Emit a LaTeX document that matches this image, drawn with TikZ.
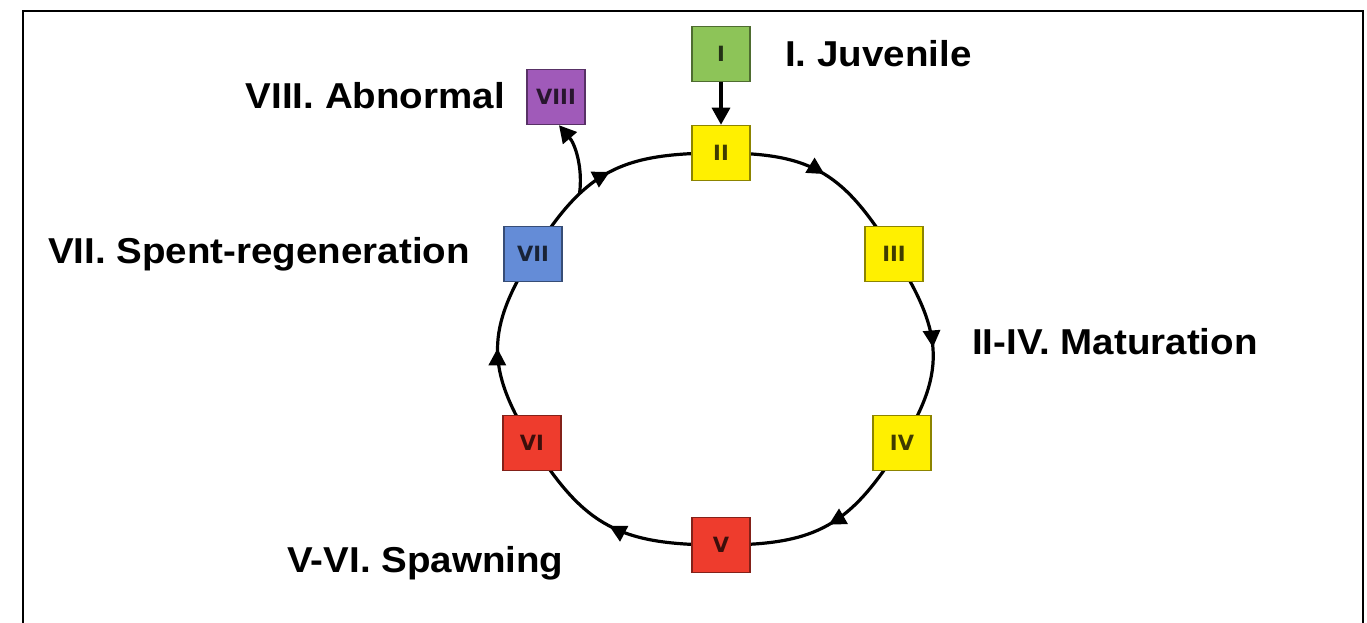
\documentclass[tikz,border=0pt]{standalone}
\usepackage{fontspec}
\setmainfont{Liberation Sans}
\newfontfamily\boxfont{DejaVu Sans}
\usepackage{graphicx}
\usetikzlibrary{arrows.meta,decorations.markings,backgrounds}
\definecolor{cI}{RGB}{141,196,88}
\definecolor{cY}{RGB}{255,240,0}
\definecolor{cR}{RGB}{238,60,45}
\definecolor{cB}{RGB}{100,140,215}
\definecolor{cP}{RGB}{160,90,185}
\begin{document}
\begin{tikzpicture}[x=1pt,y=1pt,
 stagebox/.style={draw=#1!55!black, fill=#1, line width=1.5pt, minimum width=58pt, minimum height=55pt, inner sep=0pt, text=#1!25!black, font=\boxfont\bfseries\fontsize{21}{21}\selectfont},
 lbl/.style={font=\bfseries\fontsize{36}{40}\selectfont, inner sep=0pt},
 flow/.style={line width=3.2pt, draw=black},
 cyc/.style={looseness=1.19},
 midarrow/.style={postaction={decorate}, decoration={markings, mark=at position 0.5 with {\arrow{Triangle[length=17pt,width=17pt]}}}},
 tipend/.style={-{Triangle[length=17pt,width=18pt]}}
]
\useasboundingbox (0,0) rectangle (1367,622);

\node[stagebox=cI] (I) at (721,568) {I};
\node[stagebox=cY] (II) at (721,469) {II};
\node[stagebox=cY] (III) at (894,368) {III};
\node[stagebox=cY] (IV) at (902,179) {IV};
\node[stagebox=cR] (V) at (721,77) {V};
\node[stagebox=cR] (VI) at (532,179) {VI};
\node[stagebox=cB] (VII) at (533,368) {VII};
\node[stagebox=cP] (VIII) at (556,525) {VIII};

\begin{scope}[on background layer]
\fill[white] (0,0) rectangle (1367,622);
\draw[line width=2.5pt] (23,-10) -- (23,611) -- (1363,611) -- (1363,-10);
\draw[flow, cyc, midarrow] (II.center) to[out=0, in=122] (III.center);
\draw[flow, cyc, midarrow] (III.center) to[out=-58, in=58] (IV.center);
\draw[flow, cyc, midarrow] (IV.center) to[out=-122, in=0] (V.center);
\draw[flow, cyc, midarrow] (V.center) to[out=180, in=-58] (VI.center);
\draw[flow, cyc, midarrow] (VI.center) to[out=122, in=-122] (VII.center);
\draw[flow, cyc, midarrow] (VII.center) to[out=58, in=180] coordinate[pos=0.31] (br) (II.center);
\end{scope}

\draw[flow, tipend] (I) -- (II);
\draw[flow, tipend] (br) .. controls (583,455) and (575,478) .. ([xshift=3pt]VIII.south);

\node[lbl, anchor=base west] (lI) at (785,555) {\scalebox{1.07}[1]{I. Juvenile}};
\node[lbl, anchor=base east] (lVIII) at (505,513) {\scalebox{1.07}[1]{VIII. Abnormal}};
\node[lbl, anchor=base east] (lVII) at (470,358) {\scalebox{1.07}[1]{VII. Spent-regeneration}};
\node[lbl, anchor=base west] (lM) at (972,268) {\scalebox{1.07}[1]{II-IV. Maturation}};
\node[lbl, anchor=base west] (lS) at (287,50) {\scalebox{1.07}[1]{V-VI. Spawning}};
\end{tikzpicture}
\end{document}
